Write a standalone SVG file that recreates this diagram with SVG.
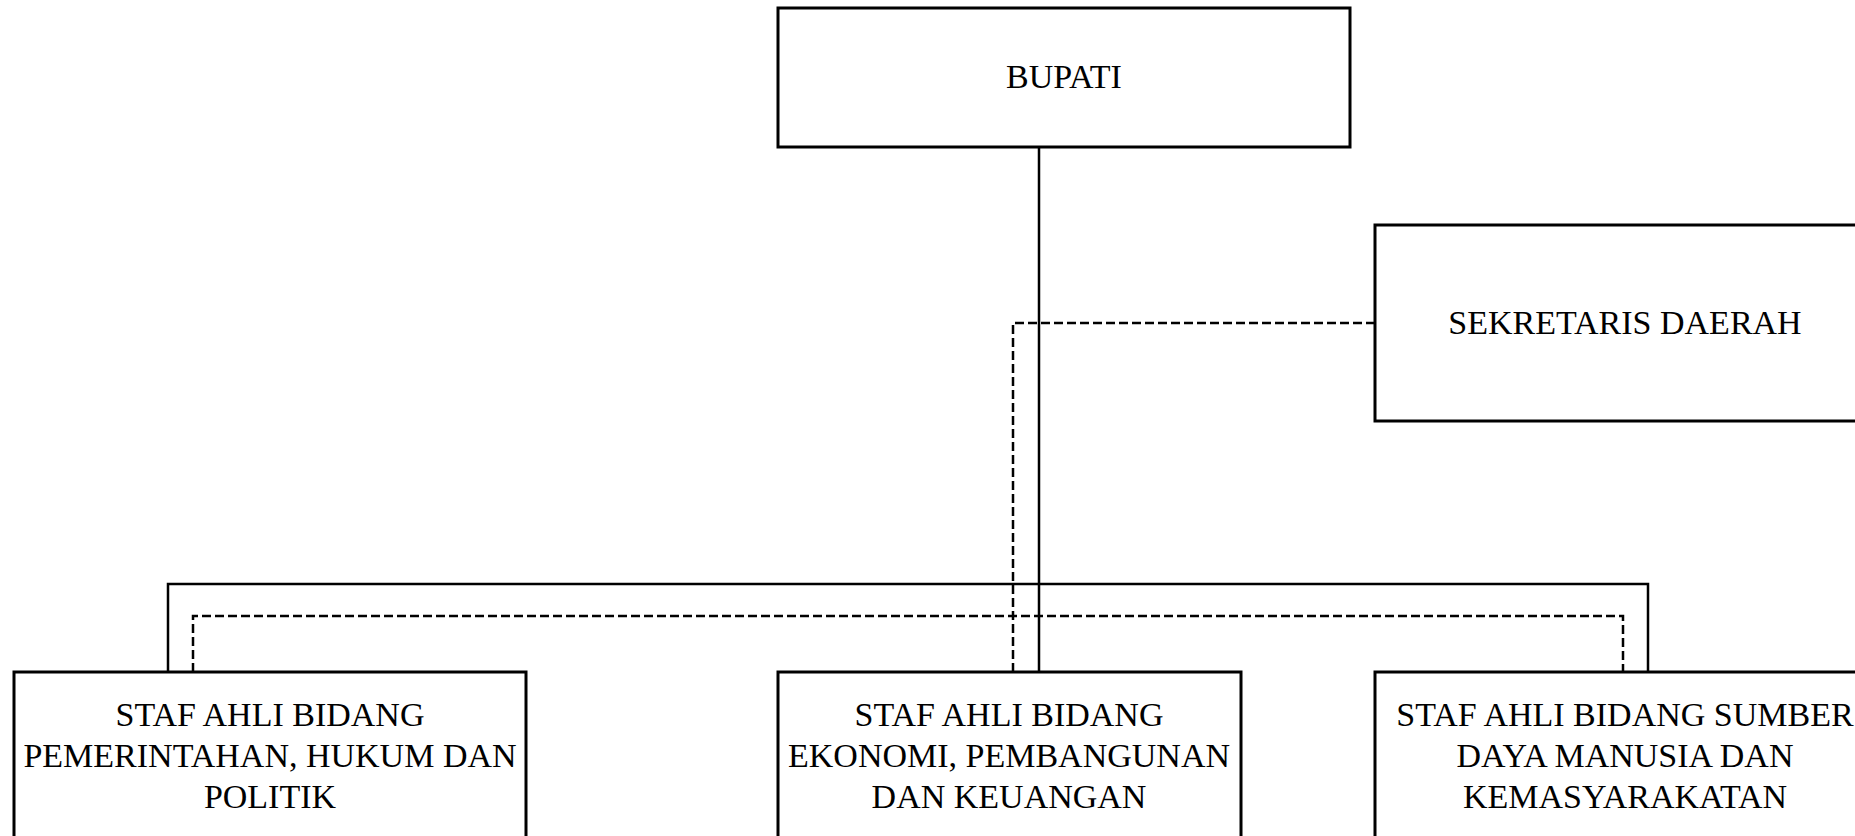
<svg xmlns="http://www.w3.org/2000/svg" width="1855" height="836" viewBox="0 0 1855 836">
<style>
.box{fill:#fff;stroke:#000;stroke-width:3}
.t{font-family:"Liberation Serif","DejaVu Serif",serif;font-size:34px;fill:#000;text-anchor:middle}
.solid{fill:none;stroke:#000;stroke-width:2.5}
.dash{fill:none;stroke:#000;stroke-width:2.5;stroke-dasharray:9 4}
</style>
<rect width="1855" height="836" fill="#fff"/>
<g id="connectors">
<path class="solid" d="M1039 147 V672"/>
<path class="solid" d="M168 672 V584 H1648 V672"/>
<path class="dash" d="M1375 323 H1013 V672"/>
<path class="dash" d="M193 672 V616 H1623 V672"/>
</g>
<g id="bupati">
<rect class="box" x="778" y="8" width="572" height="139"/>
<text class="t" x="1064" y="88">BUPATI</text>
</g>
<g id="sekda">
<rect class="box" x="1375" y="225" width="520" height="196"/>
<text class="t" x="1625" y="334">SEKRETARIS DAERAH</text>
</g>
<g id="staf1">
<rect class="box" x="14" y="672" width="512" height="220"/>
<text class="t" x="270" y="726">STAF AHLI BIDANG</text>
<text class="t" x="270" y="767">PEMERINTAHAN, HUKUM DAN</text>
<text class="t" x="270" y="808">POLITIK</text>
</g>
<g id="staf2">
<rect class="box" x="778" y="672" width="463" height="220"/>
<text class="t" x="1009" y="726">STAF AHLI BIDANG</text>
<text class="t" x="1009" y="767">EKONOMI, PEMBANGUNAN</text>
<text class="t" x="1009" y="808">DAN KEUANGAN</text>
</g>
<g id="staf3">
<rect class="box" x="1375" y="672" width="520" height="220"/>
<text class="t" x="1625" y="726">STAF AHLI BIDANG SUMBER</text>
<text class="t" x="1625" y="767">DAYA MANUSIA DAN</text>
<text class="t" x="1625" y="808">KEMASYARAKATAN</text>
</g>
</svg>
